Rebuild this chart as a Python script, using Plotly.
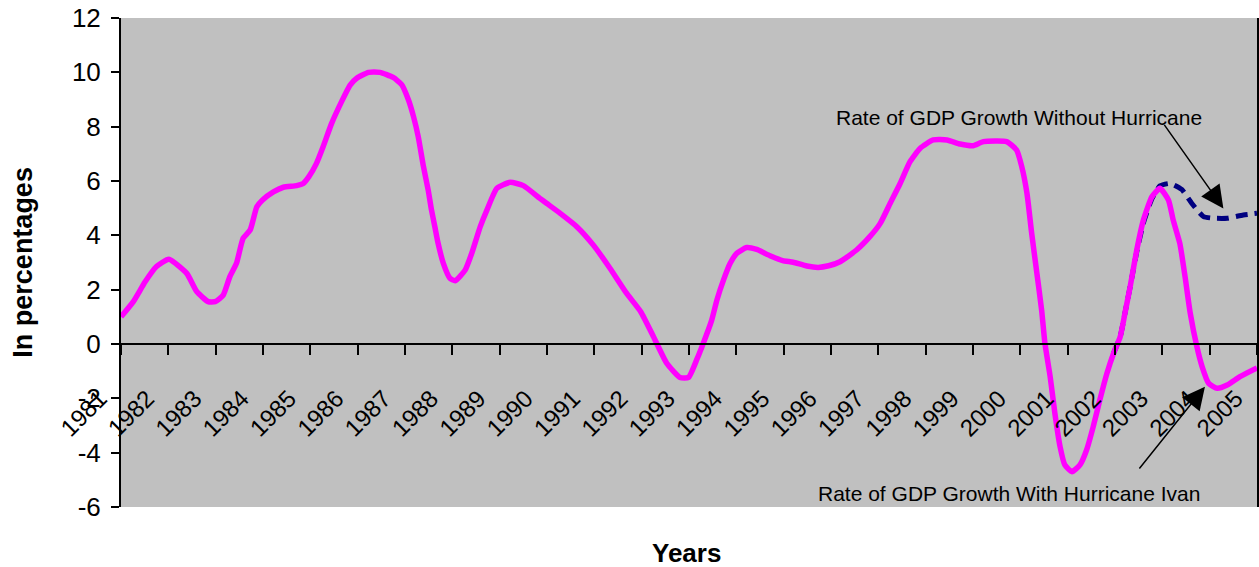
import plotly.graph_objects as go

# Category years on the x axis
years = list(range(1981, 2006))
year_labels = [str(y) for y in years]

# Rate of GDP growth with Hurricane Ivan (decimal-year positions)
with_x = [1981.00, 1981.26, 1981.51, 1981.75, 1982.01, 1982.39, 1982.60, 1982.84, 1982.99, 1983.16,
          1983.30, 1983.44, 1983.58, 1983.73, 1983.87, 1983.99, 1984.22, 1984.43, 1984.71, 1984.85,
          1984.97, 1985.13, 1985.27, 1985.45, 1985.66, 1985.84, 1985.98, 1986.23, 1986.47, 1986.75,
          1986.93, 1987.07, 1987.18, 1987.28, 1987.39, 1987.49, 1987.56, 1987.63, 1987.70, 1987.81,
          1987.95, 1988.06, 1988.27, 1988.41, 1988.59, 1988.73, 1988.94, 1989.22, 1989.50, 1989.85,
          1989.99, 1990.28, 1990.63, 1990.98, 1991.33, 1991.68, 1991.98, 1992.25, 1992.53, 1992.81,
          1992.99, 1993.17, 1993.30, 1993.48, 1993.59, 1993.73, 1993.87, 1994.01, 1994.22, 1994.43,
          1994.71, 1994.98, 1995.20, 1995.49, 1995.73, 1995.95, 1996.19, 1996.54, 1996.82, 1997.04,
          1997.25, 1997.46, 1997.67, 1997.88, 1998.16, 1998.45, 1998.73, 1999.00, 1999.22, 1999.71,
          1999.92, 2000.03, 2000.14, 2000.24, 2000.35, 2000.45, 2000.52, 2000.63, 2000.73, 2000.84,
          2000.94, 2001.09, 2001.26, 2001.40, 2001.54, 2001.68, 2001.83, 2001.97, 2002.11, 2002.21,
          2002.32, 2002.46, 2002.60, 2002.78, 2002.95, 2003.13, 2003.23, 2003.37, 2003.48, 2003.59,
          2003.73, 2003.84, 2003.98, 2004.16, 2004.37, 2004.64, 2005.00]
with_y = [1.00, 1.56, 2.29, 2.85, 3.12, 2.60, 1.93, 1.56, 1.56, 1.80,
          2.48, 2.97, 3.89, 4.20, 5.05, 5.30, 5.60, 5.77, 5.83, 5.91,
          6.16, 6.65, 7.26, 8.12, 8.92, 9.53, 9.78, 10.00, 10.00, 9.81,
          9.55, 9.00, 8.37, 7.63, 6.53, 5.67, 4.93, 4.32, 3.70, 2.97,
          2.42, 2.33, 2.72, 3.34, 4.32, 4.93, 5.73, 5.95, 5.83, 5.36,
          5.18, 4.81, 4.32, 3.64, 2.79, 1.87, 1.19, 0.27, -0.71, -1.23,
          -1.23, -0.55, 0.02, 0.88, 1.62, 2.36, 2.97, 3.34, 3.55, 3.48,
          3.25, 3.07, 3.01, 2.87, 2.82, 2.88, 3.03, 3.46, 3.95, 4.44,
          5.18, 5.91, 6.71, 7.20, 7.51, 7.51, 7.36, 7.30, 7.45, 7.45,
          7.14, 6.53, 5.55, 4.07, 2.60, 1.25, 0.02, -1.20, -2.55, -3.78,
          -4.45, -4.70, -4.45, -3.90, -3.04, -2.06, -1.08, -0.34, 0.27, 1.13,
          2.11, 3.46, 4.56, 5.42, 5.73, 5.30, 4.56, 3.70, 2.48, 1.13,
          -0.10, -0.83, -1.45, -1.63, -1.51, -1.20, -0.88]

# Rate of GDP growth without hurricane
without_x = [2001.97, 2002.11, 2002.21, 2002.32, 2002.46, 2002.60, 2002.78, 2002.95,
             2003.16, 2003.41, 2003.62, 2003.87, 2004.08, 2004.37, 2004.71, 2005.00]
without_y = [-0.34, 0.27, 1.13, 2.11, 3.40, 4.45, 5.35, 5.82,
             5.91, 5.69, 5.18, 4.69, 4.63, 4.63, 4.75, 4.81]

y_ticks = list(range(-6, 13, 2))
y_labels = [str(v) for v in y_ticks]

FONT = "Liberation Sans, Arial, sans-serif"

fig = go.Figure()
fig.add_trace(go.Scatter(x=without_x, y=without_y, mode="lines",
                         line=dict(color="#000080", width=5, dash="12px,7px", shape="spline", smoothing=0.5),
                         name="Rate of GDP Growth Without Hurricane", xaxis="x", yaxis="y"))
fig.add_trace(go.Scatter(x=with_x, y=with_y, mode="lines",
                         line=dict(color="#FF00FF", width=5.5, shape="spline", smoothing=0.5),
                         name="Rate of GDP Growth With Hurricane Ivan", xaxis="x", yaxis="y"))

zero_pos = 6 / 18

fig.update_layout(
    width=1259, height=567,
    margin=dict(l=121, r=2, t=18, b=60, autoexpand=False),
    paper_bgcolor="white", plot_bgcolor="#C0C0C0",
    showlegend=False,
    font=dict(family=FONT, color="black", size=22),
    xaxis=dict(range=[1981, 2005], tickmode="array", tickvals=years, ticktext=year_labels,
               tickangle=-45, anchor="free", position=zero_pos, automargin=False,
               showline=True, linecolor="black", linewidth=2,
               ticks="outside", ticklen=10, tickwidth=2, tickcolor="black",
               showgrid=False, zeroline=False,
               tickfont=dict(family=FONT, size=24, color="black"),
               ticklabelstandoff=20, ticklabelshift=-21),
    xaxis2=dict(range=[1981, 2005], overlaying="x", anchor="free", position=zero_pos, automargin=False,
                tickmode="array", tickvals=years, showticklabels=False,
                ticks="inside", ticklen=8, tickwidth=2, tickcolor="black",
                showline=False, showgrid=False, zeroline=False),
    xaxis3=dict(range=[1981, 2005], overlaying="x", anchor="y", side="bottom", automargin=False,
                showline=True, mirror=True, linecolor="black", linewidth=2,
                ticks="", showticklabels=False, showgrid=False, zeroline=False),
    yaxis=dict(range=[-6, 12], tickmode="array", tickvals=y_ticks, ticktext=y_labels,
               anchor="x3", showline=True, mirror=True, linecolor="black", linewidth=2, automargin=False,
               ticks="outside", ticklen=8, tickwidth=2, tickcolor="black",
               showgrid=False, zeroline=False,
               tickfont=dict(family=FONT, size=26, color="black"), ticklabelstandoff=5),
    yaxis2=dict(range=[-6, 12], overlaying="y", anchor="x3", tickmode="array", tickvals=y_ticks,
                automargin=False,
                ticks="inside", ticklen=8, tickwidth=2, tickcolor="black",
                showticklabels=False, showline=False, showgrid=False, zeroline=False),
)

annotations = [
    dict(text="<b>In percentages</b>", xref="paper", yref="paper", x=-0.087, y=0.50,
         xanchor="center", yanchor="middle",
         textangle=-90, showarrow=False, font=dict(family=FONT, size=27, color="black")),
    dict(text="<b>Years</b>", xref="paper", yref="paper", x=0.498, y=-0.094,
         xanchor="center", yanchor="middle",
         showarrow=False, font=dict(family=FONT, size=26, color="black")),
    dict(text="Rate of GDP Growth Without Hurricane", xref="x", yref="y", x=1999.97, y=8.32,
         showarrow=False, font=dict(family=FONT, size=21, color="black")),
    dict(text="Rate of GDP Growth With Hurricane Ivan", xref="x", yref="y", x=1999.76, y=-5.52,
         showarrow=False, font=dict(family=FONT, size=21, color="black")),
    dict(text="", xref="x", yref="y", x=2004.29, y=4.99, axref="x", ayref="y", ax=2003.02, ay=8.12,
         showarrow=True, arrowhead=2, arrowsize=3, arrowwidth=1.5, arrowcolor="black", standoff=0),
    dict(text="", xref="x", yref="y", x=2003.90, y=-1.57, axref="x", ayref="y", ax=2002.49, ay=-4.64,
         showarrow=True, arrowhead=2, arrowsize=3, arrowwidth=1.5, arrowcolor="black", standoff=0),
]
fig.update_layout(annotations=annotations)

fig.write_html("out.html", config={"displayModeBar": False},
               post_script="document.body.style.margin='0';document.body.style.overflow='hidden';")
